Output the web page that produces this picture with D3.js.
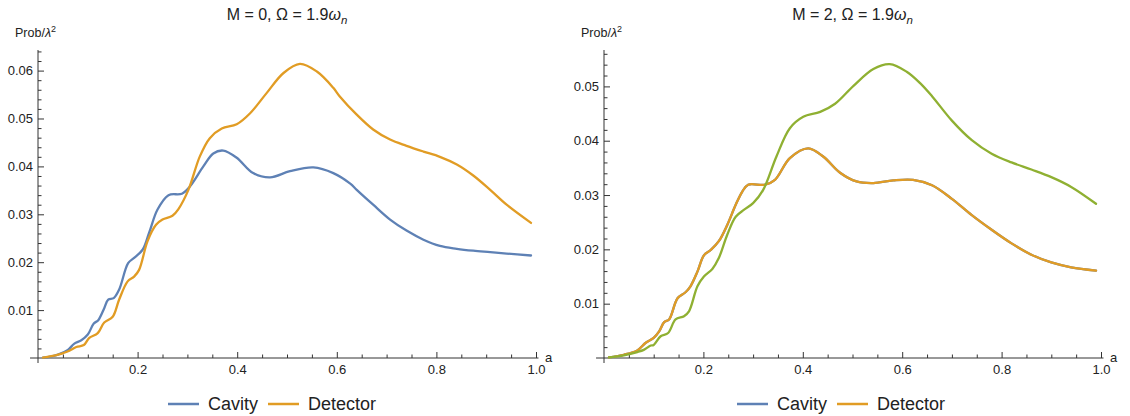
<!DOCTYPE html>
<html>
<head>
<meta charset="utf-8">
<script src="https://cdn.jsdelivr.net/npm/d3@7"></script>
<style>
  html, body { margin: 0; padding: 0; background: #fff; }
  svg { display: block; font-family: "Liberation Sans", Arial, sans-serif; }
</style>
</head>
<body>
<svg id="chart" width="1130" height="416"></svg>
<script>
// ---------- data ----------
const leftTitleM = "0";
const rightTitleM = "2";
const seriesNames = ["Cavity", "Detector"];
const xTickValues = [0.2, 0.4, 0.6, 0.8, 1.0];
const leftYTickValues = [0.01, 0.02, 0.03, 0.04, 0.05, 0.06];
const rightYTickValues = [0.01, 0.02, 0.03, 0.04, 0.05];

// Left panel (M = 0)
const leftCavityA = [0.01,0.025,0.04,0.06,0.073,0.087,0.1,0.112,0.121,0.133,0.141,0.152,0.163,0.181,0.193,0.21,0.223,0.24,0.262,0.289,0.305,0.332,0.352,0.372,0.399,0.432,0.466,0.506,0.553,0.593,0.627,0.64,0.673,0.707,0.74,0.774,0.807,0.841,0.874,0.908,0.941,0.99];
const leftCavityP = [0.0001,0.0003,0.0007,0.0017,0.003,0.0037,0.0049,0.0072,0.0079,0.0104,0.0122,0.0125,0.0143,0.0198,0.0209,0.0226,0.0261,0.031,0.034,0.0343,0.0358,0.040,0.0427,0.0433,0.0418,0.0386,0.0377,0.039,0.0398,0.0386,0.0364,0.0351,0.032,0.0289,0.0266,0.0247,0.0234,0.0228,0.0224,0.0221,0.0218,0.0214];

const leftDetectorA = [0.01,0.037,0.05,0.063,0.077,0.092,0.103,0.12,0.133,0.15,0.163,0.18,0.193,0.203,0.22,0.237,0.25,0.27,0.282,0.302,0.325,0.345,0.369,0.399,0.426,0.459,0.493,0.526,0.56,0.593,0.606,0.64,0.673,0.707,0.74,0.774,0.807,0.841,0.874,0.908,0.941,0.99];
const leftDetectorP = [0.0001,0.0006,0.001,0.0015,0.0023,0.0027,0.0042,0.0052,0.0074,0.0086,0.0122,0.016,0.017,0.0184,0.0244,0.0278,0.0289,0.0297,0.0311,0.0351,0.0421,0.0459,0.0479,0.0488,0.0511,0.0553,0.0595,0.0614,0.0598,0.0564,0.0546,0.0508,0.0477,0.0456,0.0443,0.0431,0.042,0.0404,0.0381,0.0351,0.032,0.0282];

// Right panel (M = 2): Cavity and Detector coincide
const rightCavityA = [0.01,0.04,0.067,0.084,0.1,0.111,0.121,0.131,0.148,0.164,0.174,0.188,0.201,0.215,0.231,0.248,0.265,0.278,0.29,0.324,0.344,0.374,0.411,0.441,0.475,0.508,0.542,0.582,0.622,0.66,0.7,0.74,0.78,0.82,0.86,0.9,0.94,0.99];
const rightCavityP = [0.0001,0.0006,0.0014,0.0028,0.0037,0.0049,0.0066,0.0071,0.011,0.0121,0.0132,0.0159,0.0189,0.0199,0.0215,0.0245,0.0282,0.0306,0.0319,0.0319,0.0328,0.0368,0.0386,0.0371,0.0341,0.0325,0.0322,0.0327,0.0328,0.0318,0.0293,0.0263,0.0236,0.0211,0.019,0.0176,0.0167,0.0161];
const rightDetectorA = rightCavityA.slice();
const rightDetectorP = rightCavityP.slice();

// Right panel third curve (green)
const rightThirdA = [0.01,0.04,0.067,0.08,0.094,0.1,0.114,0.129,0.144,0.161,0.171,0.188,0.201,0.218,0.231,0.248,0.265,0.282,0.3,0.32,0.347,0.374,0.401,0.435,0.465,0.502,0.542,0.575,0.609,0.636,0.66,0.7,0.74,0.78,0.82,0.86,0.9,0.94,0.99];
const rightThirdP = [0.0001,0.0005,0.0011,0.0015,0.0023,0.0024,0.004,0.0046,0.0071,0.0077,0.0086,0.0132,0.015,0.0164,0.0184,0.0227,0.026,0.0273,0.0285,0.0309,0.0371,0.0423,0.0444,0.0453,0.0468,0.0501,0.0532,0.0541,0.0527,0.0506,0.0482,0.0437,0.0401,0.0376,0.036,0.0347,0.0333,0.0315,0.0284];

// ---------- styles ----------
const colors = { cavity: "#5E81B5", detector: "#E19C24", third: "#8FB032" };
const axisColor = "#333";
const textColor = "#222";

const svg = d3.select("#chart");

function zip(a, p) { return a.map((v, i) => [v, p[i]]); }

function drawPanel(opt) {
  const g = svg.append("g");
  const x = d3.scaleLinear().domain([0, 1]).range([opt.x0, opt.x1]);
  const y = d3.scaleLinear().domain([0, opt.yMax]).range([358, 50]);

  // axis lines (extend slightly past origin like Mathematica)
  g.append("line").attr("x1", x(-0.016)).attr("x2", x(1.005)).attr("y1", y(0)).attr("y2", y(0))
    .attr("stroke", axisColor).attr("stroke-width", 1);
  g.append("line").attr("x1", x(0)).attr("x2", x(0)).attr("y1", 50).attr("y2", y(0) + 5)
    .attr("stroke", axisColor).attr("stroke-width", 1);

  // x minor ticks
  const xMinor = d3.range(0.05, 1.001, 0.05).filter(v => Math.abs(v * 5 - Math.round(v * 5)) > 1e-6);
  const gxm = g.append("g").attr("transform", `translate(0,${y(0)})`)
    .call(d3.axisBottom(x).tickValues(xMinor).tickSize(-3.5).tickFormat(""));
  const gx = g.append("g").attr("transform", `translate(0,${y(0)})`)
    .call(d3.axisBottom(x).tickValues(xTickValues).tickSize(-6).tickPadding(7).tickFormat(d3.format(".1f")));
  [gxm, gx].forEach(s => { s.select(".domain").remove(); s.selectAll("line").attr("stroke", axisColor); });
  gx.selectAll("text").attr("fill", textColor).style("font-size", "13px").style("font-family", "Liberation Sans, Arial, sans-serif");

  // y minor ticks
  const yMinor = d3.range(0.002, opt.yMax, 0.002).filter(v => Math.abs(v * 100 - Math.round(v * 100)) > 1e-6);
  const gym = g.append("g").attr("transform", `translate(${x(0)},0)`)
    .call(d3.axisLeft(y).tickValues(yMinor).tickSize(-3.5).tickFormat(""));
  const gy = g.append("g").attr("transform", `translate(${x(0)},0)`)
    .call(d3.axisLeft(y).tickValues(opt.yTicks).tickSize(-6).tickPadding(5).tickFormat(d3.format(".2f")));
  [gym, gy].forEach(s => { s.select(".domain").remove(); s.selectAll("line").attr("stroke", axisColor); });
  gy.selectAll("text").attr("fill", textColor).style("font-size", "13px").style("font-family", "Liberation Sans, Arial, sans-serif");

  // axis labels
  const yl = g.append("text").attr("x", opt.x0 - 23).attr("y", 37).attr("fill", textColor).style("font-size", "12.5px");
  yl.append("tspan").text("Prob/");
  yl.append("tspan").attr("font-style", "italic").text("λ");
  yl.append("tspan").attr("dy", -5).style("font-size", "9px").text("2");
  g.append("text").attr("x", x(1.0) + 9).attr("y", 362).attr("fill", textColor).style("font-size", "13px").text("a");

  // title
  const cx = (opt.x0 + opt.x1) / 2;
  const t = g.append("text").attr("x", cx).attr("y", 20).attr("text-anchor", "middle")
    .attr("fill", textColor).style("font-size", "16px");
  t.append("tspan").text(`M = ${opt.M}, Ω = 1.9`);
  t.append("tspan").attr("font-style", "italic").text("ω");
  t.append("tspan").attr("font-style", "italic").attr("dy", 4).style("font-size", "11.5px").text("n");

  // curves
  const line = d3.line().x(d => x(d[0])).y(d => y(d[1])).curve(d3.curveCatmullRom.alpha(0.5));
  opt.series.forEach(s => {
    g.append("path").datum(zip(s.a, s.p)).attr("d", line).attr("fill", "none")
      .attr("stroke", s.color).attr("stroke-width", 2.3).attr("stroke-linejoin", "round").attr("stroke-linecap", "round");
  });

  // legend
  const lg = g.append("g").attr("transform", `translate(${opt.legendX},404)`);
  const items = [{ name: seriesNames[0], color: colors.cavity, dx: 0 }, { name: seriesNames[1], color: colors.detector, dx: 100 }];
  items.forEach(it => {
    lg.append("line").attr("x1", it.dx).attr("x2", it.dx + 31).attr("y1", 0).attr("y2", 0)
      .attr("stroke", it.color).attr("stroke-width", 2.5);
    lg.append("text").attr("x", it.dx + 40).attr("y", 6).attr("fill", textColor).style("font-size", "18px").text(it.name);
  });
}

drawPanel({
  M: leftTitleM, x0: 38, x1: 536, yMax: 0.0643, yTicks: leftYTickValues, legendX: 168,
  series: [
    { a: leftCavityA, p: leftCavityP, color: colors.cavity },
    { a: leftDetectorA, p: leftDetectorP, color: colors.detector }
  ]
});
drawPanel({
  M: rightTitleM, x0: 604, x1: 1101, yMax: 0.0567, yTicks: rightYTickValues, legendX: 737,
  series: [
    { a: rightCavityA, p: rightCavityP, color: colors.cavity },
    { a: rightDetectorA, p: rightDetectorP, color: colors.detector },
    { a: rightThirdA, p: rightThirdP, color: colors.third }
  ]
});
</script>
</body>
</html>
